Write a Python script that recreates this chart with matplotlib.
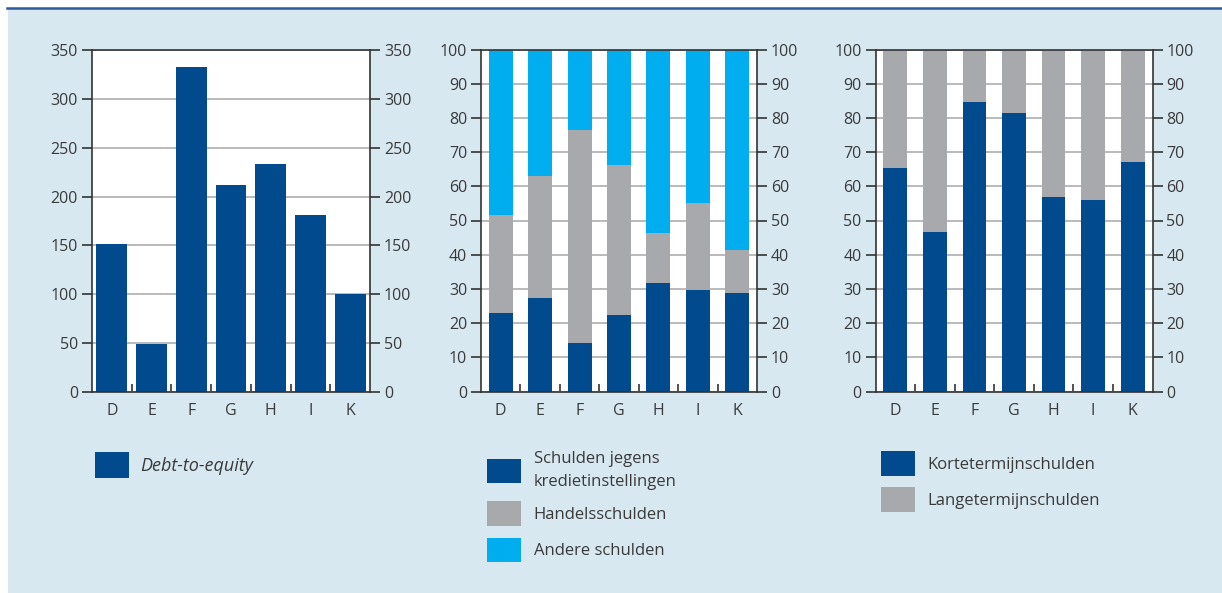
import matplotlib.pyplot as plt
from matplotlib.patches import Rectangle, Patch
from matplotlib.lines import Line2D

plt.rcParams['font.family'] = ['Open Sans', 'DejaVu Sans']

# data
sectors = ['D', 'E', 'F', 'G', 'H', 'I', 'K']
debt_to_equity = [151, 49, 333, 212, 233, 181, 100]

credit_debt = [22.9, 27.3, 14.1, 22.3, 31.7, 29.6, 28.8]
trade_debt = [28.7, 35.8, 62.3, 43.9, 14.6, 25.5, 12.5]
other_debt = [48.4, 36.9, 23.6, 33.8, 53.7, 44.9, 58.7]

short_term = [65.3, 46.6, 84.6, 81.4, 56.8, 55.9, 67.1]
long_term = [34.7, 53.4, 15.4, 18.6, 43.2, 44.1, 32.9]

DARK = '#004a8d'
GREY = '#a7a9ac'
CYAN = '#00adef'
BG = '#d8e8f1'
TXT = '#3a3a3a'

W, H = 1222, 593
fig = plt.figure(figsize=(W / 100, H / 100), dpi=100)
fig.patch.set_facecolor('white')
fig.patches.append(Rectangle((8 / W, 0), 1 - 8 / W, 1 - 8 / H, transform=fig.transFigure,
                             facecolor=BG, edgecolor='none', zorder=-5))
fig.lines.append(Line2D([7 / W, 1], [1 - 7.5 / H, 1 - 7.5 / H], transform=fig.transFigure,
                        color='#2b5c99', lw=1.8, zorder=-4))


def px_axes(left, right, top, bottom):
    return fig.add_axes([left / W, 1 - bottom / H, (right - left) / W, (bottom - top) / H])


def style(ax, ymax, step):
    x = range(len(sectors))
    ax.set_xlim(-0.5, len(sectors) - 0.5)
    ax.set_ylim(0, ymax)
    ax.set_yticks(range(0, ymax + 1, step))
    ax.set_xticks(list(x))
    ax.set_xticklabels(sectors)
    ax.set_xticks([i + 0.5 for i in range(len(sectors) - 1)], minor=True)
    ax.tick_params(axis='x', which='major', length=0, pad=8, labelsize=11.5, labelcolor=TXT)
    ax.tick_params(axis='x', which='minor', direction='in', length=6, width=1.2, color='#333333')
    ax.tick_params(axis='y', which='major', direction='out', length=7, width=1.2, color='#333333',
                   left=True, right=True, labelleft=True, labelright=True,
                   labelsize=11.5, labelcolor=TXT, pad=3)
    ax.grid(axis='y', color='#b4b4b4', lw=1.3)
    ax.set_axisbelow(True)
    for s in ax.spines.values():
        s.set_color('#333333')
        s.set_linewidth(1.2)
    ax.set_facecolor('white')


# panel 1
ax1 = px_axes(92, 370, 50, 392)
ax1.bar(sectors, debt_to_equity, width=0.78, color=DARK, zorder=2)
style(ax1, 350, 50)

# panel 2
ax2 = px_axes(481, 757, 49.5, 391.5)
ax2.bar(sectors, credit_debt, width=0.61, color=DARK, zorder=2)
b2 = [c + t for c, t in zip(credit_debt, trade_debt)]
ax2.bar(sectors, trade_debt, bottom=credit_debt, width=0.61, color=GREY, zorder=2)
ax2.bar(sectors, other_debt, bottom=b2, width=0.61, color=CYAN, zorder=2)
style(ax2, 100, 10)

# panel 3
ax3 = px_axes(875.5, 1152.5, 49.5, 391.5)
ax3.bar(sectors, short_term, width=0.6, color=DARK, zorder=2)
ax3.bar(sectors, long_term, bottom=short_term, width=0.6, color=GREY, zorder=2)
style(ax3, 100, 10)

leg_kw = dict(frameon=False, loc='upper left', borderpad=0, borderaxespad=0,
              handlelength=2.05, handleheight=1.9, handletextpad=0.75, labelspacing=0.7,
              labelcolor=TXT)

fig.legend(handles=[Patch(facecolor=DARK)], labels=['Debt-to-equity'],
           bbox_to_anchor=(95 / W, 1 - 452 / H), prop={'size': 13, 'style': 'italic'},
           **dict(leg_kw, handlelength=1.9, handleheight=1.8, handletextpad=0.6))
leg2 = fig.legend(handles=[Patch(facecolor=DARK), Patch(facecolor=GREY), Patch(facecolor=CYAN)],
                  labels=['Schulden jegens\nkredietinstellingen', 'Handelsschulden', 'Andere schulden'],
                  bbox_to_anchor=(487 / W, 1 - 451 / H), prop={'size': 12}, **leg_kw)
leg2.get_texts()[0].set_linespacing(1.55)
fig.legend(handles=[Patch(facecolor=DARK), Patch(facecolor=GREY)],
           labels=['Kortetermijnschulden', 'Langetermijnschulden'],
           bbox_to_anchor=(881 / W, 1 - 451 / H), prop={'size': 12}, **leg_kw)

fig.savefig('out.png', dpi=100, facecolor=fig.get_facecolor())
